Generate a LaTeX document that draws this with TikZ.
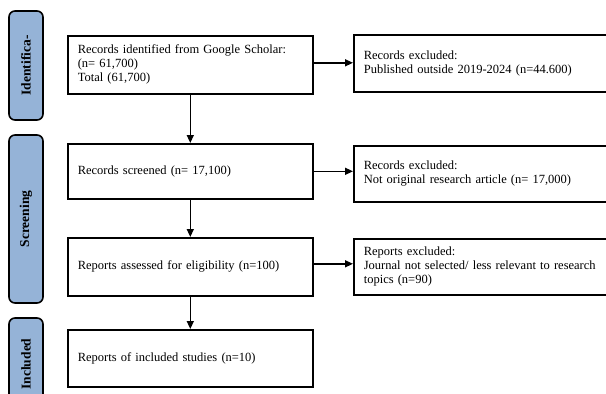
\documentclass[tikz,border=0pt]{standalone}
\usepackage{fontspec}
\setmainfont{Liberation Serif}
\usetikzlibrary{arrows.meta,positioning}
\definecolor{stage}{HTML}{95B3D7}
\tikzset{
  box/.style={draw=black, fill=white, line width=1.6pt, align=left,
              anchor=north west, inner xsep=10pt,
              font=\fontsize{12.5}{14}\selectfont},
  mainbox/.style={box, text width=225pt, minimum width=245pt},
  exclbox/.style={box, text width=260pt, minimum width=280pt},
  stagebox/.style={draw=black, fill=stage, line width=1.6pt, rounded corners=6pt,
              rotate=90, minimum height=34pt, inner sep=0pt,
              font=\fontsize{13.5}{15}\selectfont\bfseries},
  ar/.style={-{Triangle[length=8pt,width=7pt]}, line width=1.4pt}
}

\begin{document}
\begin{tikzpicture}[x=1pt,y=-1pt]
  \useasboundingbox (0,0) rectangle (606,394);
  \clip (0,0) rectangle (606,394);

  % stages
  \node[stagebox, minimum width=109pt] (s1) at (26,65.5) {Identifica-};
  \node[stagebox, minimum width=168pt] (s2) at (26,219) {Screening};
  \node[stagebox, minimum width=92pt] (s3) at (26,364) {Included};

  % main column
  \node[mainbox, minimum height=58pt] (b1) at (67,35)
     {Records identified from Google Scholar:\\(n= 61,700)\\Total (61,700)};
  \node[mainbox, minimum height=55pt] (b2) at (67,143)
     {Records screened (n= 17,100)};
  \node[mainbox, minimum height=58pt] (b3) at (67,237)
     {Reports assessed for eligibility (n=100)};
  \node[mainbox, minimum height=57pt] (b4) at (67,329)
     {Reports of included studies (n=10)};

  % exclusions
  \node[exclbox, minimum height=57pt] (r1) at (353,34)
     {Records excluded:\\Published outside 2019-2024 (n=44.600)};
  \node[exclbox, minimum height=56pt] (r2) at (353,145)
     {Records excluded:\\Not original research article (n= 17,000)};
  \node[exclbox, minimum height=56pt] (r3) at (353,238)
     {Reports excluded:\\Journal not selected/ less relevant to research\\topics (n=90)};

  \draw[ar] (b1) -- (b2);
  \draw[ar] (b2) -- (b3);
  \draw[ar] (b3) -- (b4);
  \draw[ar] ([yshift=2pt]b1.east) -- ([yshift=2pt]b1.east -| r1.west);
  \draw[ar] (b2.east) -- (b2.east -| r2.west);
  \draw[ar] ([yshift=3pt]b3.east) -- ([yshift=3pt]b3.east -| r3.west);
\end{tikzpicture}
\end{document}
